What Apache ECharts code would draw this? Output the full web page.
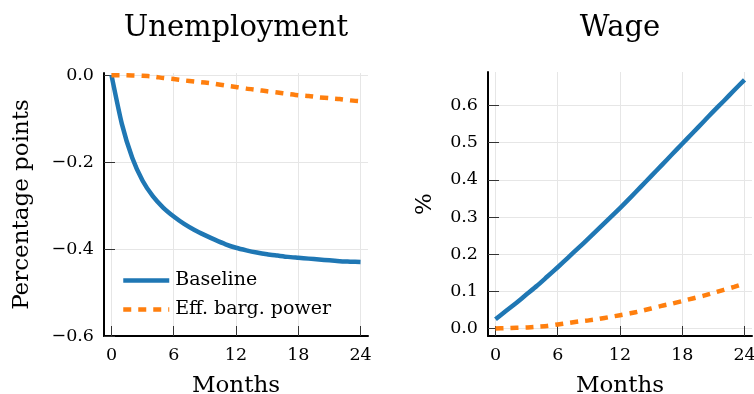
<!DOCTYPE html>
<html>
<head>
<meta charset="utf-8">
<script src="https://cdn.jsdelivr.net/npm/echarts@6/dist/echarts.min.js"></script>
<style>
  html, body { margin: 0; padding: 0; background: #fff; }
  #chart { width: 754px; height: 394px; }
</style>
</head>
<body>
<div id="chart"></div>
<script>
// Impulse responses over 24 months
const months = [0, 1, 2, 3, 4, 5, 6, 7, 8, 9, 10, 11, 12, 13, 14, 15, 16, 17, 18, 19, 20, 21, 22, 23, 24];

// Unemployment response, percentage points
const unempBaseline = [0, -0.112, -0.190, -0.243, -0.279, -0.305, -0.325, -0.342, -0.356, -0.368,
  -0.379, -0.389, -0.397, -0.403, -0.408, -0.412, -0.415, -0.418, -0.420, -0.422,
  -0.424, -0.426, -0.428, -0.429, -0.430];
const unempBargaining = [0, 0, -0.0005, -0.0015, -0.003, -0.0065, -0.009, -0.012, -0.0146, -0.017,
  -0.020, -0.024, -0.027, -0.031, -0.034, -0.037, -0.040, -0.043, -0.046, -0.048,
  -0.051, -0.053, -0.055, -0.058, -0.060];

// Wage response, %
const wageBaseline = [0.025, 0.047, 0.069, 0.092, 0.115, 0.140, 0.165, 0.191, 0.217, 0.243,
  0.270, 0.297, 0.324, 0.352, 0.381, 0.410, 0.439, 0.468, 0.497, 0.526,
  0.555, 0.584, 0.612, 0.641, 0.669];
const wageBargaining = [0, 0.001, 0.002, 0.003, 0.005, 0.007, 0.011, 0.015, 0.019, 0.022,
  0.026, 0.031, 0.036, 0.041, 0.047, 0.054, 0.061, 0.067, 0.074, 0.081,
  0.088, 0.096, 0.104, 0.112, 0.121];

// Tick labels
const monthTicks = [0, 6, 12, 18, 24];
const unempTicks = [-0.6, -0.4, -0.2, 0];
const wageTicks = [0, 0.1, 0.2, 0.3, 0.4, 0.5, 0.6];

const seriesNames = ['Baseline', 'Eff. barg. power'];
const panelTitles = ['Unemployment', 'Wage'];
const yAxisNames = ['Percentage points', '%'];
const xAxisName = 'Months';

const FONT = 'DejaVu Serif';
const BLUE = '#1f77b4';
const ORANGE = '#ff7f0e';
const GRID_COLOR = '#e6e6e6';
const LINE_WIDTH = 4.5;
const TICK_FONT = 17.5;

const fmt = v => v.toFixed(1).replace('-', '\u2212');

function monthAxis(gridIndex) {
  return {
    type: 'value', gridIndex, min: -0.72, max: 24.72,
    name: xAxisName, nameLocation: 'middle', nameGap: 39,
    nameTextStyle: { fontFamily: FONT, fontSize: 23, color: '#000' },
    axisLine: { show: true, onZero: false, lineStyle: { color: '#000', width: 2 } },
    axisTick: { show: true, inside: true, length: 10, customValues: monthTicks,
      lineStyle: { color: '#333', width: 1 } },
    axisLabel: { customValues: monthTicks, fontFamily: FONT, fontSize: TICK_FONT, color: '#000',
      margin: 10, formatter: v => String(v) },
    splitLine: { show: true, lineStyle: { color: GRID_COLOR, width: 1 } }
  };
}

function valueAxis(gridIndex, min, max, ticks, name, nameGap) {
  return {
    type: 'value', gridIndex, min, max,
    name, nameLocation: 'middle', nameGap,
    nameTextStyle: { fontFamily: FONT, fontSize: 23, color: '#000' },
    axisLine: { show: true, onZero: false, lineStyle: { color: '#000', width: 2 } },
    axisTick: { show: true, inside: true, length: 11, customValues: ticks,
      lineStyle: { color: '#333', width: 1 } },
    axisLabel: { customValues: ticks, fontFamily: FONT, fontSize: TICK_FONT, color: '#000',
      margin: 10, formatter: fmt },
    splitLine: { show: true, lineStyle: { color: GRID_COLOR, width: 1 } }
  };
}

function lineSeries(name, xi, values, color, dashed) {
  return {
    type: 'line', name, xAxisIndex: xi, yAxisIndex: xi,
    data: months.map((m, i) => [m, values[i]]),
    symbol: 'none', smooth: 0.2,
    lineStyle: { color, width: LINE_WIDTH, type: dashed ? [8, 7] : 'solid', cap: 'butt', join: 'round' },
    itemStyle: { color },
    emphasis: { disabled: true }
  };
}

const chart = echarts.init(document.getElementById('chart'), null, { renderer: 'canvas' });
chart.setOption({
  animation: false,
  backgroundColor: '#fff',
  title: [
    { text: panelTitles[0], left: 236, top: 14, textAlign: 'center', padding: 0,
      textStyle: { fontFamily: FONT, fontSize: 29, fontWeight: 'normal', color: '#000' } },
    { text: panelTitles[1], left: 620, top: 14, textAlign: 'center', padding: 0,
      textStyle: { fontFamily: FONT, fontSize: 29, fontWeight: 'normal', color: '#000' } }
  ],
  grid: [
    { left: 104, right: 386, top: 73, bottom: 58, containLabel: false, outerBoundsMode: 'none' },
    { left: 488, right: 2, top: 72, bottom: 58, containLabel: false, outerBoundsMode: 'none' }
  ],
  xAxis: [monthAxis(0), monthAxis(1)],
  yAxis: [
    valueAxis(0, -0.6, 0.005, unempTicks, yAxisNames[0], 70),
    valueAxis(1, -0.02, 0.69, wageTicks, yAxisNames[1], 51)
  ],
  legend: {
    data: seriesNames, orient: 'vertical', left: 121, top: 271, padding: 0,
    itemWidth: 46, itemHeight: 18, itemGap: 10,
    itemStyle: { opacity: 0 },
    lineStyle: { width: LINE_WIDTH },
    textStyle: { fontFamily: FONT, fontSize: 19, color: '#000', lineHeight: 18, padding: [0, 0, 0, 1] }
  },
  series: [
    lineSeries(seriesNames[0], 0, unempBaseline, BLUE, false),
    lineSeries(seriesNames[1], 0, unempBargaining, ORANGE, true),
    lineSeries(seriesNames[0], 1, wageBaseline, BLUE, false),
    lineSeries(seriesNames[1], 1, wageBargaining, ORANGE, true)
  ]
});
</script>
</body>
</html>
